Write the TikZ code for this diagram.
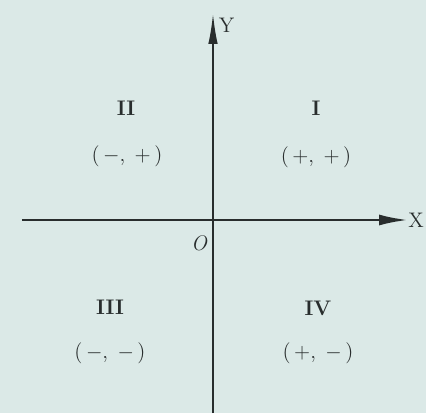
\documentclass[tikz,border=0pt]{standalone}
\usepackage{tikz}
\usepackage{xcolor}
\usetikzlibrary{arrows.meta,calc,positioning}
\definecolor{scanbg}{RGB}{219,233,231}
\definecolor{inkgray}{RGB}{40,45,45}

\begin{document}
\begin{tikzpicture}[x=1cm,y=1cm,>=Latex,every node/.style={font=\large,text=inkgray}]
  \tikzset{
    axis/.style={draw=inkgray,line width=1.5pt},
    quad/.style={inner sep=1pt,font=\large\bfseries},
    sign/.style={inner sep=1pt}
  }
  % page, with the scan's margins
  \fill[scanbg] (-4.26,-3.86) rectangle (4.26,4.40);
  \useasboundingbox (-4.26,-3.86) rectangle (4.26,4.40);
  % axes
  \coordinate (xl) at (-3.82,0);
  \coordinate (xr) at (3.90,0);
  \coordinate (yb) at (0,-3.86);
  \coordinate (yt) at (0,4.14);
  \draw[axis,-{Latex[length=0.58cm,width=0.22cm]}] (xl) -- (xr);
  \draw[axis,line width=1.2pt,-{Latex[length=0.62cm,width=0.19cm]}] (yb) -- (yt);
  \node[anchor=east,inner sep=1pt] (xlab) at (4.26,0) {X};
  \node (ylab) at (0.27,3.90) {Y};
  \node (orig) at (-0.28,-0.46) {\itshape O};
  % quadrants
  \node[quad] (q1) at (2.06,2.24) {I};
  \node[sign] (s1) at (2.06,1.26) {(\,+,\;\,+\,)};
  \node[quad] (q2) at (-1.74,2.24) {II};
  \node[sign] (s2) at (-1.72,1.28) {(\,$-$,\;\,+\,)};
  \node[quad] (q3) at (-2.06,-1.74) {III};
  \node[sign] (s3) at (-2.06,-2.66) {(\,$-$,\;\,$-$\,)};
  \node[quad] (q4) at (2.10,-1.76) {IV};
  \node[sign] (s4) at (2.10,-2.66) {(\,+,\;\,$-$\,)};
\end{tikzpicture}
\end{document}
